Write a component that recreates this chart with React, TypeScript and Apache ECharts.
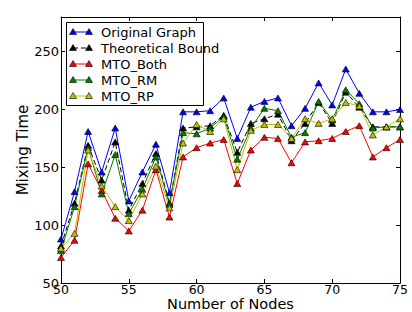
import React, { useEffect, useRef } from "react";
import * as echarts from "echarts";

const nodes = [50, 51, 52, 53, 54, 55, 56, 57, 58, 59, 60, 61, 62, 63, 64, 65, 66, 67, 68, 69, 70, 71, 72, 73, 74, 75];
const originalGraph = [88, 129, 181, 146, 184, 121, 146, 170, 128, 198, 198, 199, 210, 175, 202, 207, 210, 186, 201, 223, 204, 235, 214, 198, 198, 200];
const theoreticalBound = [82, 119, 169, 139, 172, 113, 136, 162, 119, 184, 185, 186, 195, 163, 188, 192, 196, 173, 188, 206, 188, 215, 202, 185, 185, 185];
const mtoBoth = [72, 87, 153, 130, 106, 95, 113, 148, 107, 159, 167, 171, 174, 136, 165, 176, 175, 154, 172, 173, 175, 181, 186, 159, 167, 174];
const mtoRM = [78, 116, 167, 127, 161, 110, 131, 159, 118, 180, 179, 184, 194, 157, 184, 201, 199, 176, 180, 207, 191, 217, 205, 184, 185, 185];
const mtoRP = [80, 93, 165, 134, 116, 104, 127, 151, 115, 171, 187, 181, 192, 148, 182, 187, 187, 175, 192, 188, 192, 206, 203, 178, 185, 192];

const yTicks = [50, 100, 150, 200, 250];
const xTicks = [50, 55, 60, 65, 70, 75];

const seriesDefs = [
  { name: "Original Graph", data: originalGraph, color: "#0000ff", dashed: false },
  { name: "Theoretical Bound", data: theoreticalBound, color: "#000000", dashed: true },
  { name: "MTO_Both", data: mtoBoth, color: "#ff0000", dashed: false },
  { name: "MTO_RM", data: mtoRM, color: "#008000", dashed: false },
  { name: "MTO_RP", data: mtoRP, color: "#bfbf00", dashed: false },
];

const FONT = "DejaVu Sans";

export default function App() {
  const ref = useRef<HTMLDivElement>(null);
  useEffect(() => {
    const chart = echarts.init(ref.current!, null, { renderer: "svg" });
    const axisCommon = {
      axisLine: { show: true, lineStyle: { color: "#000", width: 1 } },
      axisTick: { show: true, inside: true, length: 4, lineStyle: { color: "#000", width: 1 } },
      splitLine: { show: false },
    };
    const yMin = yTicks[0];
    const yMax = 280;
    const yInt = yTicks[1] - yTicks[0];
    const xMin = xTicks[0];
    const xMax = xTicks[xTicks.length - 1];
    const xInt = xTicks[1] - xTicks[0];

    const tri = (cx: number, cy: number, color: string) => ({
      type: "polygon",
      shape: { points: [[cx, cy - 3.5], [cx + 3.5, cy + 2.5], [cx - 3.5, cy + 2.5]] },
      style: { fill: color, stroke: "#000", lineWidth: 0.6 },
      z: 101,
    });

    const legendChildren: any[] = [
      {
        type: "rect",
        shape: { x: 66.5, y: 22.5, width: 137, height: 83 },
        style: { fill: "#fff", stroke: "#000", lineWidth: 1 },
        z: 100,
      },
    ];
    seriesDefs.forEach((s, i) => {
      const cy = 32 + i * 16;
      legendChildren.push({
        type: "line",
        shape: { x1: 73, y1: cy, x2: 89, y2: cy },
        style: { stroke: s.color, lineWidth: 1, lineDash: s.dashed ? [5, 3] : null },
        z: 101,
      });
      legendChildren.push(tri(73, cy, s.color));
      legendChildren.push(tri(89, cy, s.color));
      legendChildren.push({
        type: "text",
        x: 101,
        y: cy,
        style: { text: s.name, font: `13px "${FONT}"`, fill: "#000", textVerticalAlign: "middle", textAlign: "left" },
        z: 101,
      });
    });

    const option: any = {
      animation: false,
      backgroundColor: "#fff",
      textStyle: { fontFamily: FONT },
      grid: { left: 61, right: 12, top: 17, bottom: 29, containLabel: false, outerBoundsMode: "none" },
      xAxis: [
        {
          type: "value",
          min: xMin,
          max: xMax,
          interval: xInt,
          position: "bottom",
          name: "Number of Nodes",
          nameLocation: "middle",
          nameGap: 14,
          nameMoveOverlap: false,
          nameTextStyle: { fontFamily: FONT, fontSize: 14.5, color: "#000", verticalAlign: "top", lineHeight: 14.5 },
          axisLabel: { color: "#000", fontFamily: FONT, fontSize: 12.5, margin: 0, lineHeight: 12 },
          ...axisCommon,
        },
        {
          type: "value",
          min: xMin,
          max: xMax,
          interval: xInt,
          position: "top",
          axisLabel: { show: false },
          ...axisCommon,
        },
      ],
      yAxis: [
        {
          type: "value",
          min: yMin,
          max: yMax,
          interval: yInt,
          position: "left",
          name: "Mixing Time",
          nameLocation: "middle",
          nameGap: 31,
          nameMoveOverlap: false,
          nameTextStyle: { fontFamily: FONT, fontSize: 15, color: "#000" },
          axisLabel: { color: "#000", fontFamily: FONT, fontSize: 13, margin: 2, showMaxLabel: false },
          ...axisCommon,
        },
        {
          type: "value",
          min: yMin,
          max: yMax,
          interval: yInt,
          position: "right",
          axisLabel: { show: false },
          ...axisCommon,
        },
      ],
      series: seriesDefs.map((s) => ({
        type: "line",
        name: s.name,
        xAxisIndex: 0,
        yAxisIndex: 0,
        data: nodes.map((n, i) => [n, s.data[i]]),
        symbol: "triangle",
        symbolSize: [7, 6],
        lineStyle: { color: s.color, width: 1, type: s.dashed ? [5, 3] : "solid" },
        itemStyle: { color: s.color, borderColor: "#000", borderWidth: 0.6 },
        emphasis: { disabled: true },
        silent: true,
      })),
      graphic: [{ type: "group", children: legendChildren }],
    };
    chart.setOption(option);
    return () => chart.dispose();
  }, []);
  return <div ref={ref} style={{ position: "fixed", left: 0, top: 0, width: 412, height: 312 }} />;
}
